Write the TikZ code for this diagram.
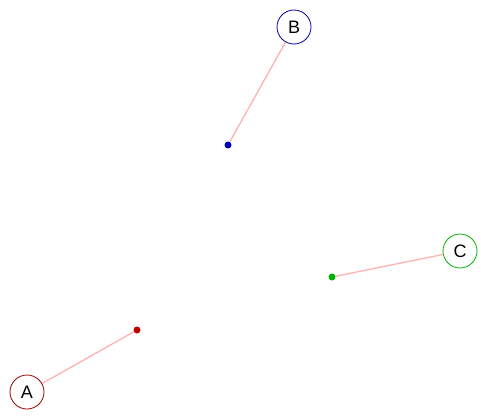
\documentclass[tikz,border=0pt]{standalone}
\usepackage{fontspec}
\setmainfont{Liberation Sans}
\begin{document}
\begin{tikzpicture}[x=1pt, y=-1pt, font=\fontsize{18}{20}\selectfont,
  lbl/.style={circle, draw, thick, minimum size=34pt, inner sep=0pt},
  pt/.style={circle, fill, inner sep=0pt, minimum size=7pt},
  link/.style={draw=red!30!white, line width=1.3pt}]
\useasboundingbox (0,0) rectangle (481,415);
\node[lbl, draw=red!60!black]   (A) at (27,392)  {A};
\node[lbl, draw=blue!60!black]  (B) at (294,27)  {B};
\node[lbl, draw=green!70!black] (C) at (460,251) {C};
\node[pt, red!75!black]    (pA) at (137,330) {};
\node[pt, blue!75!black]   (pB) at (228,145) {};
\node[pt, green!70!black]  (pC) at (332,277) {};
\draw[link] (A) -- (pA);
\draw[link] (B) -- (pB);
\draw[link] (C) -- (pC);
\end{tikzpicture}
\end{document}
